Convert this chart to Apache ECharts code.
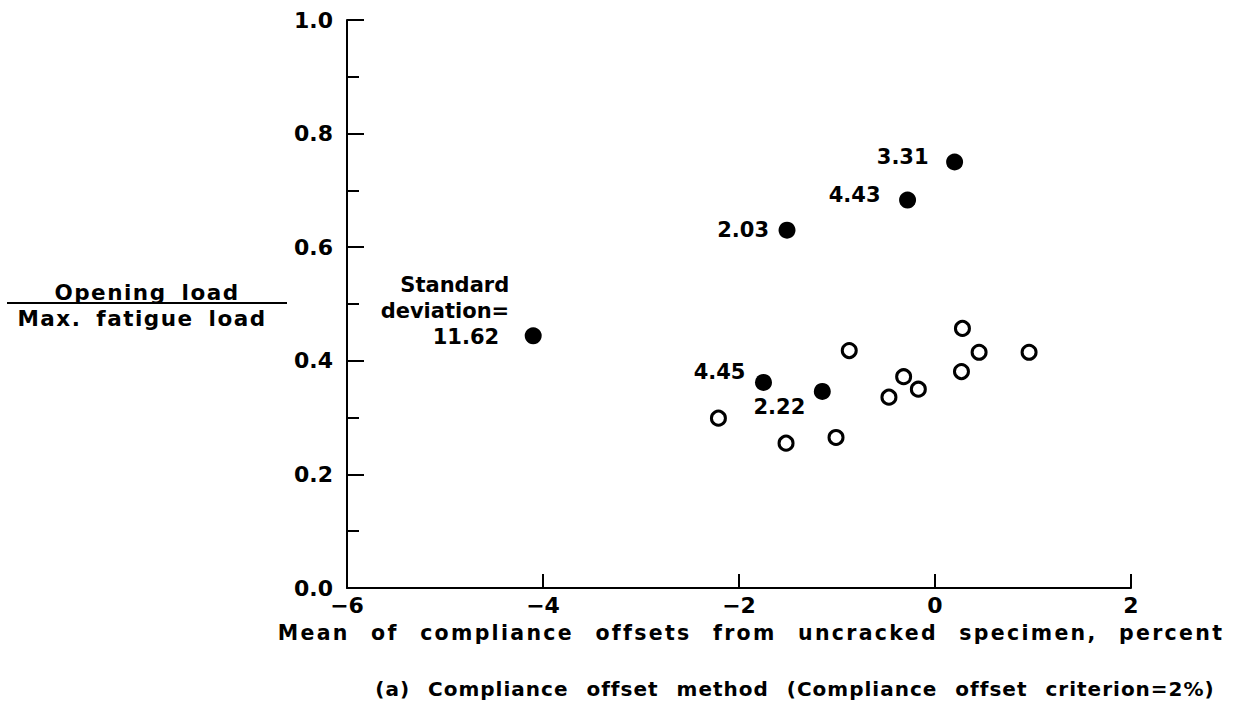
<!DOCTYPE html>
<html>
<head>
<meta charset="utf-8">
<script src="https://cdn.jsdelivr.net/npm/echarts@6/dist/echarts.min.js"></script>
<style>
  html, body { margin: 0; padding: 0; background: #fff; }
  #chart { width: 1247px; height: 715px; }
  /* wide plotter-style tracking for the titles */
  #chart text[style*="20.5px"] { letter-spacing: 2.3px; word-spacing: 12px; }
  #chart text[style*="20px"] { letter-spacing: 1px; word-spacing: 10px; }
  #chart text[style*="21.5px"] { letter-spacing: 1.5px; word-spacing: 6px; }
</style>
</head>
<body>
<div id="chart"></div>
<script>
// Axis ticks
const xTicks = [-6, -4, -2, 0, 2];
const yTicks = [0, 0.2, 0.4, 0.6, 0.8, 1.0];

// Filled points: mean compliance offset, load ratio, standard deviation
const solidX = [0.20, -0.28, -1.51, -4.10, -1.75, -1.15];
const solidY = [0.750, 0.683, 0.630, 0.444, 0.362, 0.346];
const solidSD = ['3.31', '4.43', '2.03', '11.62', '4.45', '2.22'];
const sdCaption = ['Standard', 'deviation='];

// Open points
const openX = [-2.21, -1.52, -1.01, -0.875, -0.47, -0.32, -0.17, 0.28, 0.27, 0.45, 0.96];
const openY = [0.299, 0.255, 0.265, 0.418, 0.336, 0.372, 0.350, 0.457, 0.381, 0.415, 0.415];

// Titles
const xTitle = 'Mean of compliance offsets from uncracked specimen, percent';
const caption = '(a) Compliance offset method (Compliance offset criterion=2%)';
const yTitleTop = 'Opening load';
const yTitleBottom = 'Max. fatigue load';

const FONT = 'DejaVu Sans';
const DOT = 17;          // filled dot diameter
const HALF = DOT / 2;

// label anchor (right edge, vertical centre) relative to each filled dot
const labelAnchor = [[-26, -5], [-27, -5], [-18, 0], [-24, 14], [-18, -10], [-17, 16]];
const SD_BLOCK = 3;      // index carrying the "Standard deviation=" note

const solidData = solidX.map((x, i) => {
  const a = labelAnchor[i];
  const isBlock = i === SD_BLOCK;
  return {
    value: [x, solidY[i]],
    label: {
      position: [HALF + a[0], HALF + a[1]],
      align: 'right',
      verticalAlign: isBlock ? 'bottom' : 'middle'
    }
  };
});

const chart = echarts.init(document.getElementById('chart'), null, { renderer: 'svg' });

const axisText = { color: '#000', fontFamily: FONT, fontWeight: 'bold', fontSize: 22 };

chart.setOption({
  backgroundColor: '#fff',
  animation: false,
  grid: { left: 347, right: 116, top: 20, bottom: 127, containLabel: false },
  xAxis: {
    type: 'value',
    min: xTicks[0], max: xTicks[xTicks.length - 1], interval: 2,
    axisLine: { show: true, onZero: false, lineStyle: { color: '#000', width: 2 } },
    axisTick: { show: true, inside: true, length: 14, lineStyle: { color: '#000', width: 2 } },
    minorTick: { show: false },
    splitLine: { show: false },
    axisLabel: Object.assign({}, axisText, {
      margin: 6,
      formatter: v => (xTicks.includes(v) ? String(v).replace('-', '\u2212') : '')
    })
  },
  yAxis: {
    type: 'value',
    min: yTicks[0], max: yTicks[yTicks.length - 1], interval: 0.2,
    axisLine: { show: true, onZero: false, lineStyle: { color: '#000', width: 2 } },
    axisTick: { show: true, inside: true, length: 17, lineStyle: { color: '#000', width: 2 } },
    minorTick: { show: true, splitNumber: 2, length: 12, lineStyle: { color: '#000', width: 2 } },
    splitLine: { show: false },
    axisLabel: Object.assign({}, axisText, {
      margin: 14,
      formatter: v => v.toFixed(1)
    })
  },
  series: [
    {
      type: 'scatter',
      silent: true,
      symbol: 'circle',
      symbolSize: 14,
      itemStyle: { color: '#fff', borderColor: '#000', borderWidth: 3, opacity: 1 },
      data: openX.map((x, i) => [x, openY[i]])
    },
    {
      type: 'scatter',
      silent: true,
      symbol: 'circle',
      symbolSize: DOT,
      itemStyle: { color: '#000', opacity: 1 },
      label: {
        show: true,
        color: '#000',
        fontFamily: FONT,
        fontWeight: 'bold',
        fontSize: 21,
        formatter: p => (p.dataIndex === SD_BLOCK
          ? sdCaption.map(t => '{a|' + t + '}').join('\n') + '\n{b|' + solidSD[p.dataIndex] + '}'
          : solidSD[p.dataIndex]),
        rich: {
          a: { color: '#000', fontFamily: FONT, fontWeight: 'bold', fontSize: 21, lineHeight: 26 },
          b: { color: '#000', fontFamily: FONT, fontWeight: 'bold', fontSize: 21, lineHeight: 26,
               align: 'right', padding: [0, 10, 0, 0] }
        }
      },
      data: solidData
    }
  ],
  graphic: [
    {
      type: 'text', x: 147, y: 292,
      style: { text: yTitleTop, fill: '#000', fontFamily: FONT, fontWeight: 'bold', fontSize: 21.5,
               align: 'center', verticalAlign: 'middle' }
    },
    {
      type: 'line',
      shape: { x1: 7, y1: 303, x2: 287, y2: 303 },
      style: { stroke: '#000', lineWidth: 2 }
    },
    {
      type: 'text', x: 142, y: 318,
      style: { text: yTitleBottom, fill: '#000', fontFamily: FONT, fontWeight: 'bold', fontSize: 21.5,
               align: 'center', verticalAlign: 'middle' }
    },
    {
      type: 'text', x: 751, y: 633,
      style: { text: xTitle, fill: '#000', fontFamily: FONT, fontWeight: 'bold', fontSize: 20.5,
               align: 'center', verticalAlign: 'middle' }
    },
    {
      type: 'text', x: 795, y: 689,
      style: { text: caption, fill: '#000', fontFamily: FONT, fontWeight: 'bold', fontSize: 20,
               align: 'center', verticalAlign: 'middle' }
    }
  ]
});
</script>
</body>
</html>
